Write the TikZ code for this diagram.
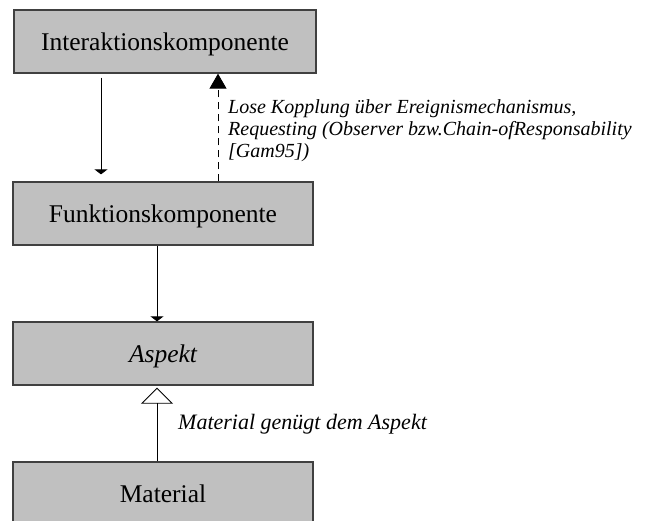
\documentclass[tikz,border=0pt]{standalone}
\usepackage{fontspec}
\setmainfont{Liberation Serif}
\usetikzlibrary{arrows.meta}
\definecolor{boxfill}{HTML}{C0C0C0}
\definecolor{boxline}{HTML}{404040}
\tikzset{
  classbox/.style={draw=boxline, line width=1.3pt, fill=boxfill, rectangle,
    minimum width=300pt, minimum height=63pt, inner sep=0pt,
    text height=18pt, text depth=0pt, font=\fontsize{25.5}{30}\selectfont},
  assoc/.style={draw=black, line width=0.9pt,
    -{Triangle[width=13pt,length=5pt]}},
  coupling/.style={draw=black, line width=0.9pt, dash pattern=on 7pt off 5pt,
    -{Triangle[width=17pt,length=15pt]}},
  inherit/.style={draw=black, line width=0.9pt,
    -{Triangle[open,width=32pt,length=16pt,line width=0.9pt]}},
  note/.style={font=\itshape\fontsize{20}{22}\selectfont, align=left, inner sep=0pt}
}
\begin{document}
\begin{tikzpicture}[x=1pt,y=-1pt]
  \clip (0,0) rectangle (669,520);
  \fill[white] (0,0) rectangle (669,520);

  % class boxes
  \node[classbox, minimum width=302pt] (inter) at (165,41.5) {Interaktionskomponente};
  \node[classbox] (funk) at (163,213.5) {Funktionskomponente};
  \node[classbox] (asp) at (163,353.5) {\itshape Aspekt};
  \node[classbox] (mat) at (163,493.5) {Material};

  % x positions of the connectors
  \coordinate (xa) at (101,0);
  \coordinate (xd) at (218,0);
  \coordinate (xm) at (157,0);

  % connectors
  \draw[assoc, shorten <=4pt, shorten >=7pt] (inter.south -| xa) -- (funk.north -| xa);
  \draw[coupling] (funk.north -| xd) -- (inter.south -| xd);
  \draw[assoc] (funk.south -| xm) -- (asp.north -| xm);
  \draw[inherit, shorten >=2pt] (mat.north -| xm) -- (asp.south -| xm);

  % connector labels (base anchor sits on the last line)
  \node[note, anchor=base west] (lbl1) at (228,157)
    {Lose Kopplung über Ereignismechanismus,\\
     Requesting (Observer bzw.Chain-ofResponsability\\
     {[}Gam95{]})};
  \node[note, anchor=base west, font=\itshape\fontsize{22}{24}\selectfont] (lbl2) at (178,429)
    {Material genügt dem Aspekt};
\end{tikzpicture}
\end{document}
